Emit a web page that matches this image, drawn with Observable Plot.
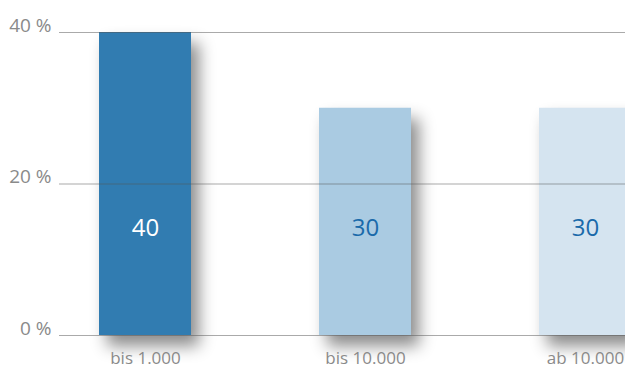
<!DOCTYPE html>
<html>
<head>
<meta charset="utf-8">
<script src="https://cdn.jsdelivr.net/npm/d3@7"></script>
<script src="https://cdn.jsdelivr.net/npm/@observablehq/plot@0.6"></script>
<style>
  html, body { margin: 0; padding: 0; background: #fff; overflow: hidden; }
  #chart svg { overflow: hidden; }
</style>
</head>
<body>
<div id="chart"></div>
<script>
const categories = ["bis 1.000", "bis 10.000", "ab 10.000"];
const values = [40, 30, 30];
const yTicks = [0, 20, 40];

const data = categories.map((c, i) => ({category: c, value: values[i]}));

const plot = Plot.plot({
  width: 625,
  height: 390,
  marginLeft: 59,
  marginRight: 0,
  marginTop: 32,
  marginBottom: 55,
  style: {fontFamily: "'Open Sans', sans-serif", fontSize: "16px", background: "#fff"},
  x: {type: "band", domain: categories, range: [76, 653], paddingInner: 0.583, paddingOuter: 0.1, align: 0.5},
  y: {domain: [0, 40]},
  color: {type: "ordinal", domain: categories, range: ["#317cb1", "#aacbe2", "#d5e4f0"]},
  marks: [
    Plot.barY(data, {x: "category", y: "value", fill: "category"}),
    Plot.ruleY(yTicks, {stroke: "#555", strokeOpacity: 0.5, strokeWidth: 1.2}),
    Plot.text(data, {
      x: "category",
      text: d => String(d.value),
      frameAnchor: "bottom",
      lineAnchor: "middle",
      dy: -107,
      fontSize: 24,
      fill: (d, i) => i === 0 ? "#ffffff" : "#1a6aaa"
    }),
    Plot.axisY({ticks: yTicks, tickSize: 0, tickPadding: 8, tickFormat: d => d + " %", fontSize: 19, color: "#8a8a8a", dy: -7, label: null}),
    Plot.axisX({tickSize: 0, tickPadding: 16, fontSize: 17, color: "#8a8a8a", label: null})
  ]
});

document.getElementById("chart").appendChild(plot);
d3.select(plot).selectAll("g[aria-label='bar'] rect")
  .style("filter", "drop-shadow(8px 11px 8px rgba(0,0,0,0.45))");
</script>
</body>
</html>
